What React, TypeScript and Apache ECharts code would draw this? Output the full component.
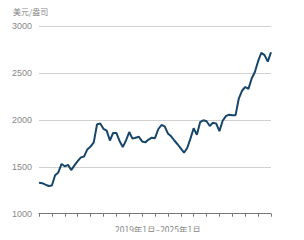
import React, { useEffect, useRef } from "react";
import * as echarts from "echarts";

const months: string[] = [];
for (let y = 2019; y <= 2025; y++) {
  for (let m = 1; m <= 12; m++) {
    if (y === 2025 && m > 1) break;
    months.push(`${y}-${m}`);
  }
}

const goldPrice = [
  1330, 1325, 1310, 1295, 1300, 1410, 1440, 1530, 1505, 1520, 1465, 1515,
  1560, 1600, 1610, 1685, 1715, 1760, 1950, 1962, 1905, 1885, 1780, 1860,
  1860, 1775, 1710, 1780, 1870, 1800, 1810, 1820, 1770, 1760, 1790, 1810,
  1805, 1900, 1945, 1930, 1855, 1825, 1780, 1740, 1695, 1650, 1700, 1800,
  1910, 1840, 1975, 1995, 1985, 1935, 1970, 1960, 1880, 1990, 2040, 2055,
  2050, 2050, 2225, 2310, 2350, 2330, 2440, 2510, 2625, 2715, 2690, 2620,
  2720,
];

const yTicks = [1000, 1500, 2000, 2500, 3000];
const unitLabel = "美元/盎司";
const periodLabel = "2019年1月–2025年1月";

export default function App() {
  const ref = useRef<HTMLDivElement>(null);
  useEffect(() => {
    if (!ref.current) return;
    const chart = echarts.init(ref.current, null, { renderer: "svg" });
    chart.setOption({
      animation: false,
      backgroundColor: "#ffffff",
      textStyle: { fontFamily: "Noto Sans CJK SC, Noto Sans, sans-serif" },
      grid: { left: 39, right: 33, top: 26, bottom: 26.3 },
      graphic: [
        {
          type: "text",
          left: 13,
          top: 7,
          style: { text: unitLabel, fontSize: 8, fill: "#888", fontFamily: "Noto Sans CJK SC" },
        },
        {
          type: "text",
          left: 115,
          top: 225,
          style: { text: periodLabel, fontSize: 8.5, fill: "#888", fontFamily: "Noto Sans CJK SC" },
        },
      ],
      xAxis: {
        type: "category",
        data: months,
        boundaryGap: false,
        axisLine: { show: true, lineStyle: { color: "#777", width: 1 } },
        axisTick: { show: true, interval: 3, length: 3, inside: false, lineStyle: { color: "#777" } },
        axisLabel: { show: false },
        splitLine: { show: false },
      },
      yAxis: {
        type: "value",
        min: yTicks[0],
        max: yTicks[yTicks.length - 1],
        interval: 500,
        axisLine: { show: false },
        axisTick: { show: false },
        axisLabel: {
          color: "#888",
          fontSize: 9,
          margin: 7,
          fontFamily: "Liberation Sans, Arial, sans-serif",
          formatter: (v: number) => String(v),
        },
        splitLine: { lineStyle: { color: "#d0d0d0", width: 1 } },
      },
      series: [
        {
          type: "line",
          data: goldPrice,
          symbol: "none",
          lineStyle: { color: "#17466b", width: 2 },
        },
      ],
    });
    return () => chart.dispose();
  }, []);
  return <div ref={ref} style={{ width: 304, height: 240, margin: -8 }} />;
}
